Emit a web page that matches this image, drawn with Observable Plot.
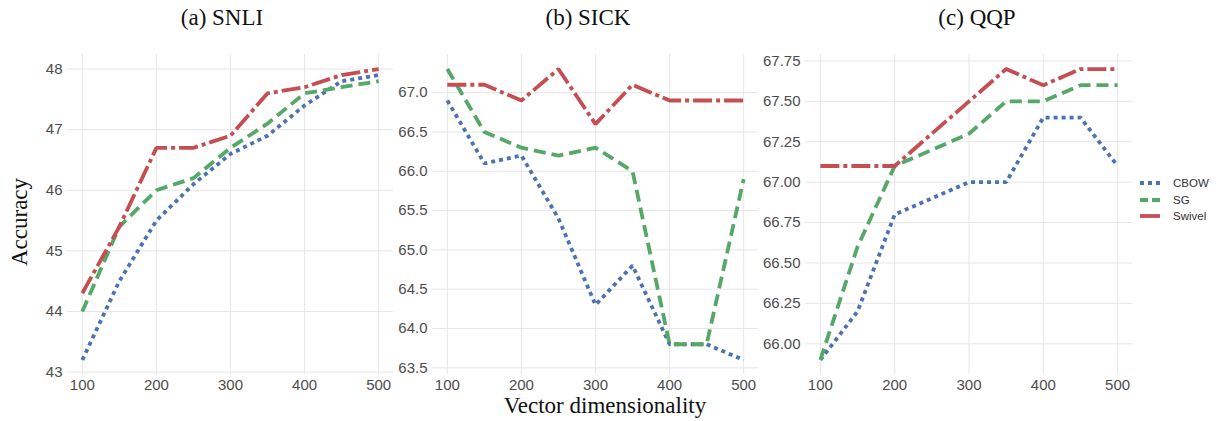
<!DOCTYPE html>
<html>
<head>
<meta charset="utf-8">
<script src="https://cdn.jsdelivr.net/npm/d3@7"></script>
<script src="https://cdn.jsdelivr.net/npm/@observablehq/plot@0.6"></script>
<style>
  html, body { margin: 0; padding: 0; background: #fff; }
  #chart { position: relative; width: 1217px; height: 421px; background: #fff; overflow: hidden; }
  .panel { position: absolute; top: 0; }
  .title { position: absolute; font-family: "Liberation Serif", "Times New Roman", serif; font-size: 23px; line-height: 23px; color: #111; white-space: nowrap; transform: translateX(-50%); }
  .legend { position: absolute; left: 1138px; top: 175px; font-family: "Liberation Sans", Arial, sans-serif; font-size: 11.5px; color: #333; }
  .legend div { height: 16.5px; display: flex; align-items: center; }
  .legend svg { margin-right: 11px; }
</style>
</head>
<body>
<div id="chart"></div>
<script>
// ---- data ----
const dims = [100, 150, 200, 250, 300, 350, 400, 450, 500];
const models = ["CBOW", "SG", "Swivel"];
const xTicks = [100, 200, 300, 400, 500];

const snliCBOW   = [43.2, 44.5, 45.5, 46.1, 46.6, 46.9, 47.4, 47.8, 47.9];
const snliSG     = [44.0, 45.4, 46.0, 46.2, 46.7, 47.1, 47.6, 47.7, 47.8];
const snliSwivel = [44.3, 45.4, 46.7, 46.7, 46.9, 47.6, 47.7, 47.9, 48.0];

const sickCBOW   = [66.9, 66.1, 66.2, 65.4, 64.3, 64.8, 63.8, 63.8, 63.6];
const sickSG     = [67.3, 66.5, 66.3, 66.2, 66.3, 66.0, 63.8, 63.8, 65.9];
const sickSwivel = [67.1, 67.1, 66.9, 67.3, 66.6, 67.1, 66.9, 66.9, 66.9];

const qqpCBOW    = [65.9, 66.2, 66.8, 66.9, 67.0, 67.0, 67.4, 67.4, 67.1];
const qqpSG      = [65.9, 66.6, 67.1, 67.2, 67.3, 67.5, 67.5, 67.6, 67.6];
const qqpSwivel  = [67.1, 67.1, 67.1, 67.3, 67.5, 67.7, 67.6, 67.7, 67.7];

const snliTicks = [43, 44, 45, 46, 47, 48];
const sickTicks = [63.5, 64.0, 64.5, 65.0, 65.5, 66.0, 66.5, 67.0];
const qqpTicks  = [66.00, 66.25, 66.50, 66.75, 67.00, 67.25, 67.50, 67.75];

const titles = ["(a) SNLI", "(b) SICK", "(c) QQP"];

// ---- styles ----
const colors = { CBOW: "#4C72B0", SG: "#55A868", Swivel: "#C44E52" };
const dashes = { CBOW: "4,4", SG: "12,6", Swivel: "19,4,4,4" };

function buildRows(series) {
  const rows = [];
  models.forEach((m, i) => dims.forEach((d, j) => rows.push({ dim: d, acc: series[i][j], model: m })));
  return rows;
}

function expand(vals, f = 0.05) {
  const [lo, hi] = d3.extent(vals);
  const pad = (hi - lo) * f;
  return [lo - pad, hi + pad];
}

function panel(series, yTicks, fmt, opts) {
  const rows = buildRows(series);
  return Plot.plot({
    width: opts.width,
    height: 421,
    marginLeft: opts.marginLeft,
    marginRight: opts.marginRight,
    marginTop: 54,
    marginBottom: 47,
    x: { domain: expand(dims) },
    y: { domain: expand(rows.map(r => r.acc)) },
    style: { fontFamily: "'Liberation Sans', Arial, sans-serif", fontSize: "15px", color: "#4d4d4d", background: "transparent", overflow: "visible" },
    marks: [
      Plot.gridX(xTicks, { stroke: "#e6e6e6", strokeOpacity: 1, strokeWidth: 1 }),
      Plot.gridY(yTicks, { stroke: "#e6e6e6", strokeOpacity: 1, strokeWidth: 1 }),
      Plot.axisX(xTicks, { tickSize: 0, tickPadding: 5, label: null, tickFormat: d => String(d) }),
      Plot.axisY(yTicks, { tickSize: 0, tickPadding: 5, label: null, tickFormat: fmt }),
      ...models.map(m => Plot.line(rows.filter(r => r.model === m), {
        x: "dim", y: "acc", stroke: colors[m], strokeWidth: 3.8,
        strokeDasharray: dashes[m], strokeLinecap: "butt", strokeLinejoin: "miter"
      }))
    ]
  });
}

const chart = document.getElementById("chart");

const panels = [
  { series: [snliCBOW, snliSG, snliSwivel], ticks: snliTicks, fmt: d => d3.format("d")(d), left: 0, width: 400, marginLeft: 67, marginRight: 7 },
  { series: [sickCBOW, sickSG, sickSwivel], ticks: sickTicks, fmt: d => d3.format(".1f")(d), left: 395, width: 370, marginLeft: 37, marginRight: 7 },
  { series: [qqpCBOW, qqpSG, qqpSwivel], ticks: qqpTicks, fmt: d => d3.format(".2f")(d), left: 760, width: 457, marginLeft: 45, marginRight: 85 }
];

panels.forEach(p => {
  const svg = panel(p.series, p.ticks, p.fmt, p);
  svg.classList.add("panel");
  svg.style.left = p.left + "px";
  chart.appendChild(svg);
});

// titles
const titleCenters = [222, 588, 977];
titles.forEach((t, i) => {
  const el = document.createElement("div");
  el.className = "title";
  el.textContent = t;
  el.style.left = titleCenters[i] + "px";
  el.style.top = "6px";
  chart.appendChild(el);
});

// axis titles
const yLab = document.createElement("div");
yLab.className = "title";
yLab.textContent = "Accuracy";
yLab.style.left = "19px";
yLab.style.top = "222px";
yLab.style.transform = "translate(-50%, -50%) rotate(-90deg)";
chart.appendChild(yLab);

const xLab = document.createElement("div");
xLab.className = "title";
xLab.textContent = "Vector dimensionality";
xLab.style.left = "605px";
xLab.style.top = "394px";
chart.appendChild(xLab);

// legend
const legend = document.createElement("div");
legend.className = "legend";
models.forEach(m => {
  const row = document.createElement("div");
  const ns = "http://www.w3.org/2000/svg";
  const s = document.createElementNS(ns, "svg");
  s.setAttribute("width", 24); s.setAttribute("height", 8);
  const ln = document.createElementNS(ns, "line");
  ln.setAttribute("x1", 2); ln.setAttribute("x2", 22);
  ln.setAttribute("y1", 4); ln.setAttribute("y2", 4);
  ln.setAttribute("stroke", colors[m]);
  ln.setAttribute("stroke-width", 3.8);
  ln.setAttribute("stroke-dasharray", m === "CBOW" ? "4,4" : m === "SG" ? "8,4" : "none");
  s.appendChild(ln);
  row.appendChild(s);
  const tx = document.createElement("span");
  tx.textContent = m;
  row.appendChild(tx);
  legend.appendChild(row);
});
chart.appendChild(legend);
</script>
</body>
</html>
